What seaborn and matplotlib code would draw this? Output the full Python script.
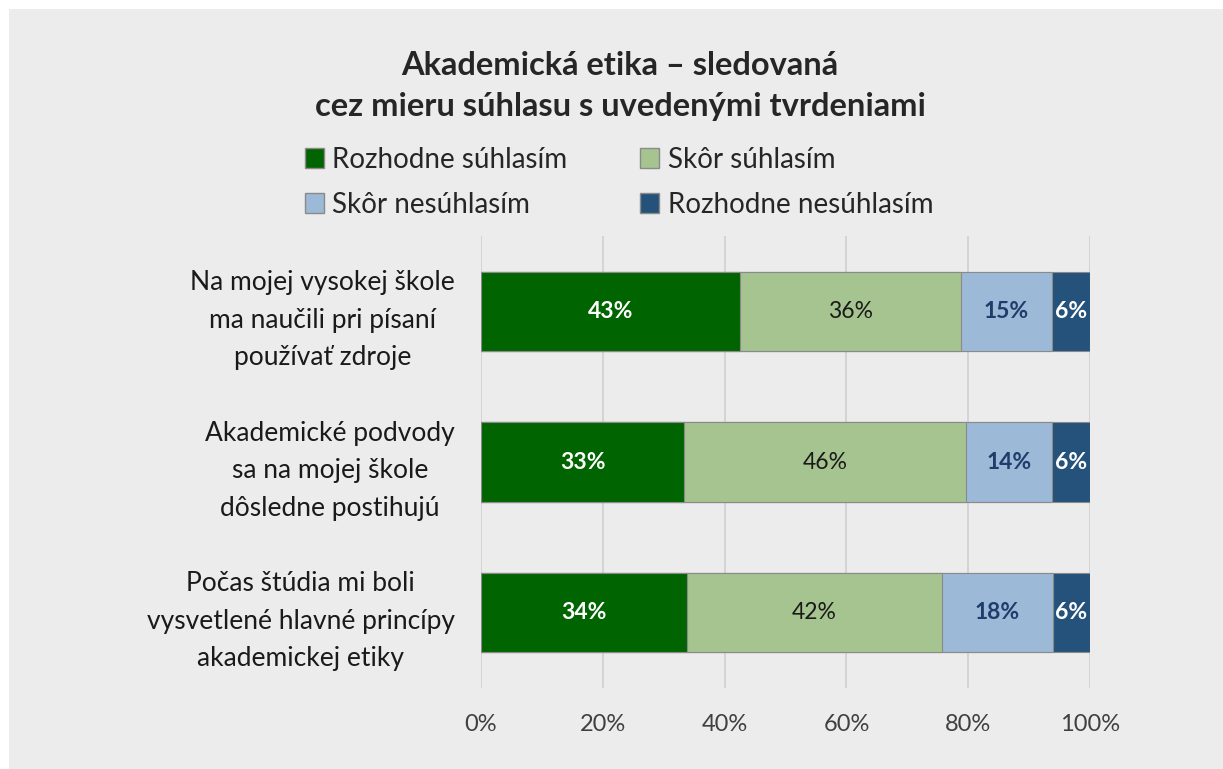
import numpy as np
import pandas as pd
import matplotlib.pyplot as plt
import matplotlib.patches as mpatches
import seaborn as sns

# data
statements = ["Na mojej vysokej škole\nma naučili pri písaní\npoužívať zdroje",
              "Akademické podvody\nsa na mojej škole\ndôsledne postihujú",
              "Počas štúdia mi boli\nvysvetlené hlavné princípy\nakademickej etiky"]
answers = ["Rozhodne súhlasím", "Skôr súhlasím", "Skôr nesúhlasím", "Rozhodne nesúhlasím"]
rozhodne_suhlasim = [42.6, 33.4, 33.8]
skor_suhlasim = [36.2, 46.2, 41.9]
skor_nesuhlasim = [15.0, 14.2, 18.2]
rozhodne_nesuhlasim = [6.2, 6.2, 6.1]

colors = ["#006400", "#a5c48f", "#9cb9d8", "#25527a"]
label_colors = ["white", "#1a1a1a", "#1f3d6b", "white"]
label_weight = ["bold", "normal", "bold", "bold"]

sns.set_theme(style="white")
plt.rcParams["font.family"] = ["Lato", "DejaVu Sans"]

df = pd.DataFrame({"statement": statements,
                   answers[0]: rozhodne_suhlasim,
                   answers[1]: skor_suhlasim,
                   answers[2]: skor_nesuhlasim,
                   answers[3]: rozhodne_nesuhlasim})
cum = df[answers].cumsum(axis=1)

fig = plt.figure(figsize=(12.23, 7.69), dpi=100)
fig.patch.set_facecolor("white")
fig.patches.append(mpatches.Rectangle((9 / 1223, 0), 1, 1 - 9 / 769,
                                      transform=fig.transFigure, facecolor="#ececec",
                                      edgecolor="none", zorder=-5))
ax = fig.add_axes([0.3933, 0.1053, 0.4980, 0.5878])
ax.set_facecolor("#ececec")

# stacked bars: draw widest layer first
for i in reversed(range(len(answers))):
    sns.barplot(x=cum[answers[i]], y=df["statement"], orient="h", color=colors[i],
                saturation=1, width=0.525, edgecolor="#8a8a8a", linewidth=0.8,
                ax=ax, zorder=2)

for i, a in enumerate(answers):
    for j in range(len(df)):
        v = df[a].iloc[j]
        ax.text(cum[a].iloc[j] - v / 2, j, f"{v:.0f}%", ha="center", va="center",
                color=label_colors[i], fontsize=16.5, fontweight=label_weight[i], zorder=3)

ax.set_xlim(0, 100)
ax.set_ylim(2.5, -0.5)
ax.set_xticks(np.arange(0, 101, 20))
ax.set_xticklabels([f"{t}%" for t in range(0, 101, 20)], fontsize=17, color="#404040")
ax.tick_params(axis="x", length=0, pad=19)
ax.tick_params(axis="y", length=0, pad=19)
for lab in ax.get_yticklabels():
    lab.set_fontsize(19)
    lab.set_multialignment("center")
    lab.set_color("#1a1a1a")
    lab.set_linespacing(1.62)
ax.xaxis.grid(True, color="#d0d0d0", linewidth=1.2, zorder=0)
ax.set_axisbelow(True)
ax.set_xlabel("")
ax.set_ylabel("")
for s in ax.spines.values():
    s.set_visible(False)

fig.text(0.507, 0.8885, "Akademická etika – sledovaná\ncez mieru súhlasu s uvedenými tvrdeniami",
         ha="center", va="center", fontsize=23.5, fontweight="bold", linespacing=1.48)

order = [0, 2, 1, 3]
handles = [mpatches.Patch(facecolor=colors[k], edgecolor="#8a8a8a", label=answers[k]) for k in order]
fig.legend(handles=handles, ncol=2, loc="center", bbox_to_anchor=(0.506, 0.763),
           frameon=False, fontsize=20, handlelength=0.7, handleheight=0.7,
           handletextpad=0.3, columnspacing=2.6, labelspacing=0.68)

fig.savefig("out.png", dpi=100)
